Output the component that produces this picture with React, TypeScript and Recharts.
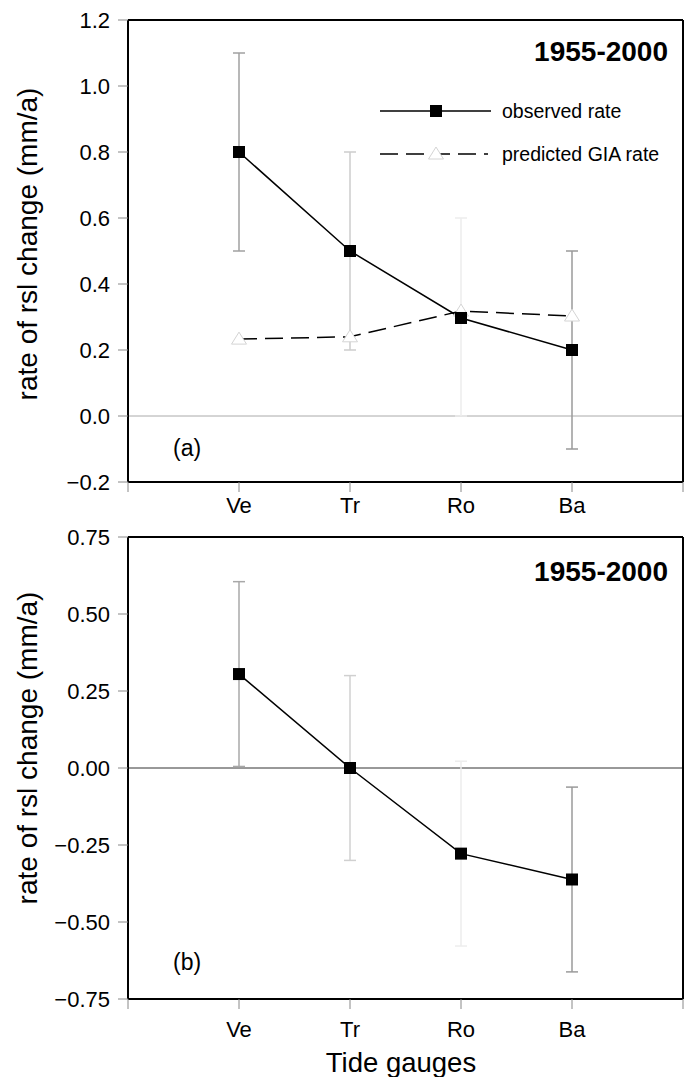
import {
  ComposedChart,
  Line,
  Scatter,
  ErrorBar,
  XAxis,
  YAxis,
  ReferenceLine,
} from 'recharts'

const GAUGES = ['Ve', 'Tr', 'Ro', 'Ba']
const GAUGE_POS = [1, 2, 3, 4]
const X_TICKS = [0, 1, 2, 3, 4, 5]

// panel (a)
const OBS_A = [0.8, 0.5, 0.297, 0.2]
const OBS_A_LO = [0.5, 0.2, 0.0, -0.1]
const OBS_A_HI = [1.1, 0.8, 0.6, 0.5]
const GIA_A = [0.233, 0.24, 0.318, 0.303]
const ERR_COLORS_A = ['#a0a0a0', '#cdcdcd', '#ececec', '#9a9a9a']
const Y_TICKS_A = [-0.2, 0, 0.2, 0.4, 0.6, 0.8, 1.0, 1.2]

// panel (b)
const OBS_B = [0.305, 0.0, -0.278, -0.362]
const OBS_B_LO = [0.005, -0.3, -0.578, -0.662]
const OBS_B_HI = [0.605, 0.3, 0.022, -0.062]
const ERR_COLORS_B = ['#a8a8a8', '#d0d0d0', '#ededed', '#9a9a9a']
const Y_TICKS_B = [-0.75, -0.5, -0.25, 0, 0.25, 0.5, 0.75]

const FONT = '"Liberation Sans", Arial, Helvetica, sans-serif'
const AXIS_LINE = { stroke: '#000', strokeWidth: 2 }
const TICK_LINE = { stroke: '#888', strokeWidth: 1 }

const gaugeLabel = (v: number) => GAUGES[GAUGE_POS.indexOf(v)] ?? ''
const minus = (s: string) => s.replace('-', '\u2212')
const fmtA = (v: number) => minus(v.toFixed(1))
const fmtB = (v: number) => minus(v.toFixed(2))

function SquareDot(props: any) {
  const { cx, cy, index } = props
  if (cx == null || cy == null) return <g key={`sq-${index}`} />
  return <rect key={`sq-${index}`} x={cx - 6} y={cy - 6} width={12} height={12} fill="#000" />
}

function TriangleDot(props: any) {
  const { cx, cy, index } = props
  if (cx == null || cy == null) return <g key={`tr-${index}`} />
  return (
    <polygon
      key={`tr-${index}`}
      points={`${cx},${cy - 7} ${cx - 7.5},${cy + 5} ${cx + 7.5},${cy + 5}`}
      fill="#fff"
      stroke="#d4d4d4"
      strokeWidth={1}
    />
  )
}

const emptyShape = () => <g />

interface PanelProps {
  obs: number[]
  lo: number[]
  hi: number[]
  gia?: number[]
  errColors: string[]
  yDomain: [number, number]
  yTicks: number[]
  fmt: (v: number) => string
  zeroStroke: string
  height: number
  marginTop: number
  xAxisHeight: number
  xTickMargin: number
}

function Panel({ obs, lo, hi, gia, errColors, yDomain, yTicks, fmt, zeroStroke, height, marginTop, xAxisHeight, xTickMargin }: PanelProps) {
  const rows = GAUGE_POS.map((x, i) => ({
    x,
    obs: obs[i],
    gia: gia ? gia[i] : undefined,
  }))
  return (
    <ComposedChart
      width={693}
      height={height}
      data={rows}
      margin={{ top: marginTop - 10, right: 0, bottom: 0, left: 0 }}
      style={{ fontFamily: FONT }}
    >
      <XAxis
        xAxisId="top"
        orientation="top"
        type="number"
        dataKey="x"
        domain={[0, 5]}
        ticks={X_TICKS}
        interval={0}
        tick={false}
        height={10}
        tickSize={10}
        axisLine={AXIS_LINE}
        tickLine={TICK_LINE}
      />
      <XAxis
        type="number"
        dataKey="x"
        domain={[0, 5]}
        ticks={X_TICKS}
        interval={0}
        tickFormatter={gaugeLabel}
        height={xAxisHeight}
        tickSize={10}
        tickMargin={xTickMargin}
        axisLine={AXIS_LINE}
        tickLine={TICK_LINE}
        tick={{ fontSize: 22, fill: '#000', fontFamily: FONT }}
      />
      <YAxis
        type="number"
        domain={yDomain}
        ticks={yTicks}
        interval={0}
        tickFormatter={fmt}
        width={128}
        tickSize={10}
        tickMargin={8}
        axisLine={AXIS_LINE}
        tickLine={TICK_LINE}
        tick={{ fontSize: 22, fill: '#000', fontFamily: FONT }}
      />
      <YAxis
        yAxisId="right"
        orientation="right"
        type="number"
        domain={yDomain}
        ticks={yTicks}
        interval={0}
        tick={false}
        width={10}
        tickSize={10}
        axisLine={AXIS_LINE}
        tickLine={TICK_LINE}
      />
      <ReferenceLine y={0} stroke={zeroStroke} strokeWidth={1} />
      {GAUGE_POS.map((x, i) => (
        <Scatter
          key={GAUGES[i]}
          data={[{ x, y: obs[i], err: [obs[i] - lo[i], hi[i] - obs[i]] }]}
          dataKey="y"
          shape={emptyShape}
          isAnimationActive={false}
        >
          <ErrorBar dataKey="err" direction="y" width={6} stroke={errColors[i]} strokeWidth={1.5} />
        </Scatter>
      ))}
      {gia && (
        <Line
          dataKey="gia"
          stroke="#000"
          strokeWidth={1.5}
          strokeDasharray="18 8"
          dot={TriangleDot}
          activeDot={false}
          isAnimationActive={false}
        />
      )}
      <Line
        dataKey="obs"
        stroke="#000"
        strokeWidth={1.5}
        dot={SquareDot}
        activeDot={false}
        isAnimationActive={false}
      />
    </ComposedChart>
  )
}

export default function App() {
  return (
    <div style={{ position: 'absolute', left: 0, top: 0, width: 693, height: 1077, background: '#fff', fontFamily: FONT }}>
      <div style={{ position: 'absolute', left: 0, top: 0 }}>
        <Panel
          obs={OBS_A}
          lo={OBS_A_LO}
          hi={OBS_A_HI}
          gia={GIA_A}
          errColors={ERR_COLORS_A}
          yDomain={[-0.2, 1.2]}
          yTicks={Y_TICKS_A}
          fmt={fmtA}
          zeroStroke="#aaa"
          height={520}
          marginTop={20}
          xAxisHeight={38}
          xTickMargin={5}
        />
      </div>
      <div style={{ position: 'absolute', left: 0, top: 520 }}>
        <Panel
          obs={OBS_B}
          lo={OBS_B_LO}
          hi={OBS_B_HI}
          errColors={ERR_COLORS_B}
          yDomain={[-0.75, 0.75]}
          yTicks={Y_TICKS_B}
          fmt={fmtB}
          zeroStroke="#333"
          height={557}
          marginTop={17}
          xAxisHeight={78}
          xTickMargin={12}
        />
      </div>
      <svg
        width={693}
        height={1077}
        style={{ position: 'absolute', left: 0, top: 0, pointerEvents: 'none' }}
        fontFamily={FONT}
      >
        <text x={37} y={244} fontSize={28} textAnchor="middle" transform="rotate(-90 37 244)">
          rate of rsl change (mm/a)
        </text>
        <text x={37} y={748} fontSize={28} textAnchor="middle" transform="rotate(-90 37 748)">
          rate of rsl change (mm/a)
        </text>
        <text x={401} y={1072} fontSize={27.5} textAnchor="middle">
          Tide gauges
        </text>

        <text x={668} y={61} fontSize={28} fontWeight="bold" textAnchor="end">1955-2000</text>
        <text x={668} y={581} fontSize={28} fontWeight="bold" textAnchor="end">1955-2000</text>
        <text x={173} y={456} fontSize={23}>(a)</text>
        <text x={173} y={970} fontSize={23}>(b)</text>

        <line x1={380} y1={111} x2={491} y2={111} stroke="#000" strokeWidth={1.5} />
        <rect x={430} y={105} width={12} height={12} fill="#000" />
        <text x={502} y={118} fontSize={19.5}>observed rate</text>

        <line x1={380} y1={154} x2={488} y2={154} stroke="#000" strokeWidth={1.5} strokeDasharray="18 8" />
        <polygon points="436,147 428.5,159 443.5,159" fill="#fff" stroke="#d4d4d4" />
        <text x={502} y={161} fontSize={19.5}>predicted GIA rate</text>
      </svg>
    </div>
  )
}
